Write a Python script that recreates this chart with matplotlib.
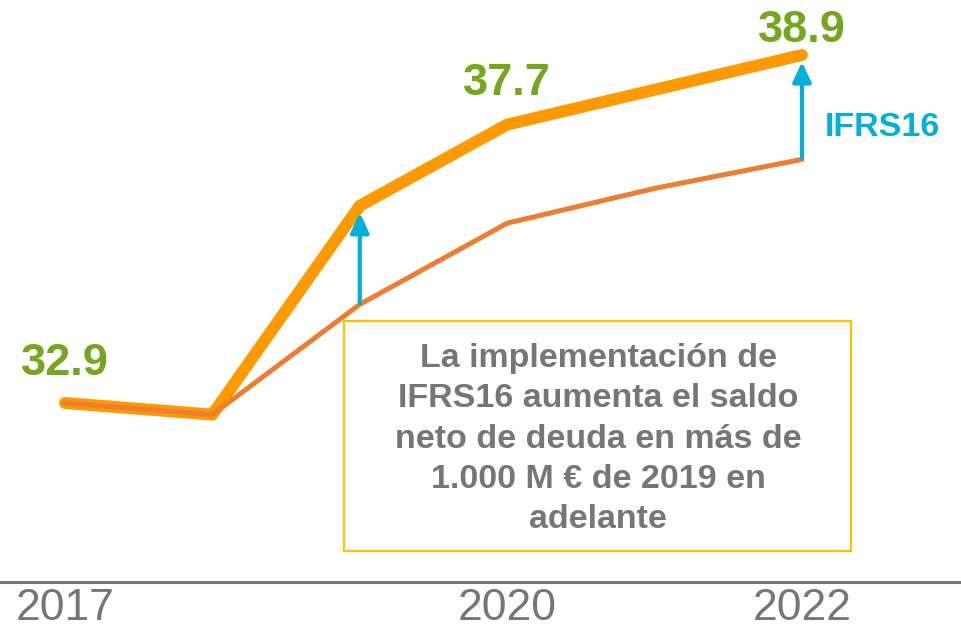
import matplotlib
matplotlib.use("Agg")
import matplotlib.pyplot as plt
from matplotlib.patches import Rectangle

# data
years = [2017, 2018, 2019, 2020, 2021, 2022]
deuda_ifrs16 = [32.9, 32.7, 36.3, 37.7, 38.3, 38.9]   # with IFRS16
deuda_sin = [32.9, 32.7, 34.6, 36.0, 36.6, 37.1]      # without IFRS16
tick_years = [2017, 2020, 2022]
label_years = [2017, 2020, 2022]
label_texts = ["32.9", "37.7", "38.9"]
arrow_years = [2019, 2022]

GREEN = "#76A61E"
BLUE = "#00B0D8"
GRAY = "#767676"

plt.rcParams['font.family'] = ['Liberation Sans', 'DejaVu Sans']

fig = plt.figure(figsize=(9.61, 6.41), dpi=100)
# axes from the baseline (582 px from top) up to the top edge
ax = fig.add_axes([0, 59 / 641, 1, 582 / 641])
ax.set_xlim(2016.559, 2023.079)
ax.set_ylim(29.814, 39.848)

ax.plot(years, deuda_ifrs16, color="#FF9900", lw=8.6,
        solid_capstyle="round", solid_joinstyle="round", zorder=2)
ax.plot(years, deuda_sin, color="#ED7D31", lw=3.6,
        solid_capstyle="round", solid_joinstyle="round", zorder=3)

# value labels
offsets = [20, 21, 9]
for yr, txt, off in zip(label_years, label_texts, offsets):
    v = deuda_ifrs16[years.index(yr)]
    ax.annotate(txt, xy=(yr, v), xytext=(0, off), textcoords="offset points",
                ha="center", va="baseline", fontsize=32.5, fontweight="bold",
                color=GREEN)

# IFRS16 arrows
for yr in arrow_years:
    i = years.index(yr)
    ax.annotate("", xy=(yr, deuda_ifrs16[i]), xytext=(yr, deuda_sin[i]),
                arrowprops=dict(arrowstyle="-|>,head_length=0.6,head_width=0.28",
                                mutation_scale=20, lw=3, color=BLUE,
                                shrinkA=1, shrinkB=5),
                zorder=4)

ax.text(825 / 961, 1 - 127 / 582, "IFRS16", transform=ax.transAxes,
        ha="left", va="center", fontsize=24.5, fontweight="bold", color=BLUE)

# note box
fig.patches.append(Rectangle((344 / 961, 90 / 641), 507 / 961, 230 / 641,
                             transform=fig.transFigure, fill=False,
                             edgecolor="#FFC000", lw=1.6, zorder=5))
fig.text(598 / 961, 1 - 439 / 641,
         "La implementación de\nIFRS16 aumenta el saldo\nneto de deuda en más de\n"
         "1.000 M € de 2019 en\nadelante",
         ha="center", va="center", fontsize=24.5, fontweight="bold",
         color=GRAY, linespacing=1.39)

# axis
for s in ["top", "left", "right"]:
    ax.spines[s].set_visible(False)
ax.spines["bottom"].set_color(GRAY)
ax.spines["bottom"].set_linewidth(2.2)
ax.set_yticks([])
ax.set_xticks(tick_years)
ax.set_xticklabels([str(t) for t in tick_years])
ax.tick_params(axis="x", length=0, pad=4, labelsize=32, labelcolor=GRAY)

fig.savefig("out.png", dpi=100)
